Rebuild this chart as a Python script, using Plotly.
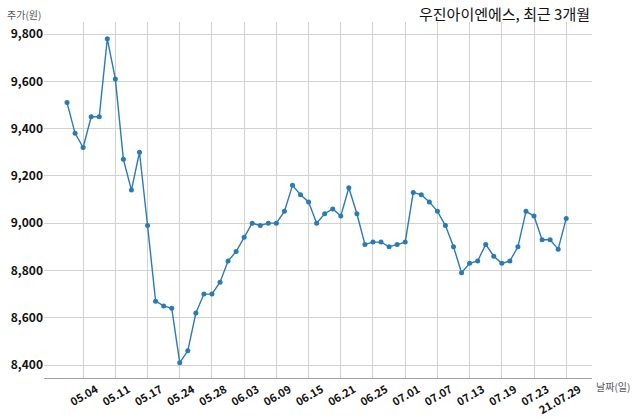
import plotly.graph_objects as go

dates = ["04.30", "05.03", "05.04", "05.06", "05.07", "05.10", "05.11", "05.12", "05.13", "05.14",
         "05.17", "05.18", "05.20", "05.21", "05.24", "05.25", "05.26", "05.27", "05.28", "05.31",
         "06.01", "06.02", "06.03", "06.04", "06.07", "06.08", "06.09", "06.10", "06.11", "06.14",
         "06.15", "06.16", "06.17", "06.18", "06.21", "06.22", "06.23", "06.24", "06.25", "06.28",
         "06.29", "06.30", "07.01", "07.02", "07.05", "07.06", "07.07", "07.08", "07.09", "07.12",
         "07.13", "07.14", "07.15", "07.16", "07.19", "07.20", "07.21", "07.22", "07.23", "07.26",
         "07.27", "07.28", "07.29"]

prices = [9510, 9380, 9320, 9450, 9450, 9780, 9610, 9270, 9140, 9300,
          8990, 8670, 8650, 8640, 8410, 8460, 8620, 8700, 8700, 8750,
          8840, 8880, 8940, 9000, 8990, 9000, 9000, 9050, 9160, 9120,
          9090, 9000, 9040, 9060, 9030, 9150, 9040, 8910, 8920, 8920,
          8900, 8910, 8920, 9130, 9120, 9090, 9050, 8990, 8900, 8790,
          8830, 8840, 8910, 8860, 8830, 8840, 8900, 9050, 9030, 8930,
          8930, 8890, 9020]

tick_dates = ["05.04", "05.11", "05.17", "05.24", "05.28", "06.03", "06.09", "06.15",
              "06.21", "06.25", "07.01", "07.07", "07.13", "07.19", "07.23", "07.29"]
tick_labels = ["05.04", "05.11", "05.17", "05.24", "05.28", "06.03", "06.09", "06.15",
               "06.21", "06.25", "07.01", "07.07", "07.13", "07.19", "07.23", "21.07.29"]
y_ticks = [8400, 8600, 8800, 9000, 9200, 9400, 9600, 9800]
y_tick_labels = ["8,400", "8,600", "8,800", "9,000", "9,200", "9,400", "9,600", "9,800"]

title_text = "우진아이엔에스, 최근 3개월"
y_title = "주가(원)"
x_title = "날짜(일)"

FONT = "Noto Sans CJK KR"
COLOR = "#2a7ab5"

fig = go.Figure()
fig.add_trace(go.Scatter(
    x=dates, y=prices, mode="lines+markers",
    line=dict(color=COLOR, width=1.4),
    marker=dict(color=COLOR, size=5),
    hoverinfo="skip",
))

fig.update_layout(
    width=640, height=419,
    margin=dict(l=44, r=48, t=22, b=41, autoexpand=False),
    paper_bgcolor="white", plot_bgcolor="white",
    showlegend=False,
    font=dict(family=FONT, color="#222"),
    xaxis=dict(
        type="category", categoryorder="array", categoryarray=dates,
        range=[-2.86, 65.2], automargin=False,
        tickmode="array", tickvals=tick_dates, ticktext=tick_labels,
        tickangle=-30, ticklabelshift=13, ticklabelstandoff=0,
        tickfont=dict(family=FONT, size=11, color="#111", weight="bold"),
        showgrid=True, gridcolor="#d2d2d2", gridwidth=1,
        showline=True, linecolor="#a0a0a0", linewidth=1,
        ticks="", zeroline=False,
    ),
    yaxis=dict(
        range=[8345, 9851], automargin=False,
        tickmode="array", tickvals=y_ticks, ticktext=y_tick_labels,
        tickfont=dict(family=FONT, size=12, color="#111", weight="bold"),
        showgrid=True, gridcolor="#d2d2d2", gridwidth=1,
        showline=False, ticks="", zeroline=False,
    ),
    annotations=[
        dict(text=title_text, xref="paper", yref="paper", x=1.0, y=1.025,
             xanchor="right", yanchor="middle", showarrow=False,
             font=dict(family=FONT, size=15, color="#111")),
        dict(text=y_title, xref="paper", yref="paper", x=-0.037, y=1.022,
             xanchor="center", yanchor="middle", showarrow=False,
             font=dict(family=FONT, size=10, color="#555")),
        dict(text=x_title, xref="paper", yref="paper", x=1.004, y=-0.025,
             xanchor="left", yanchor="middle", showarrow=False,
             font=dict(family=FONT, size=10, color="#555")),
    ],
)

fig.write_html(
    "out.html",
    config={"displayModeBar": False},
    post_script="document.body.style.margin='0';document.body.style.padding='0';",
)
